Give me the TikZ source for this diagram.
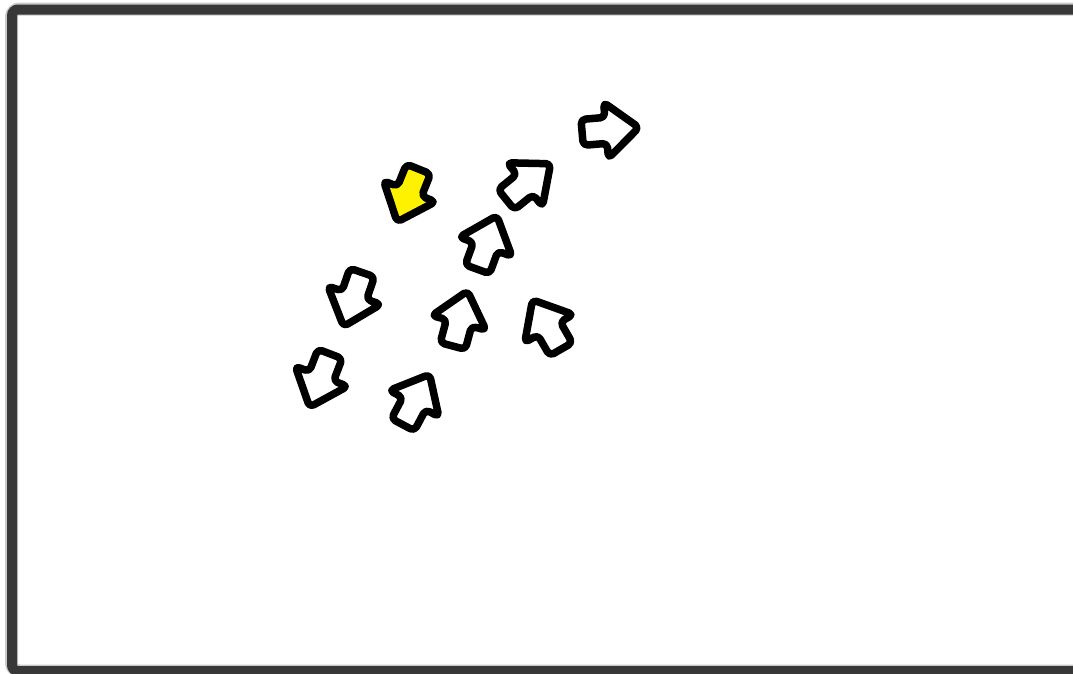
\documentclass[tikz,border=0pt]{standalone}
\usetikzlibrary{calc}
\definecolor{framegray}{HTML}{383838}
\definecolor{shadowgray}{HTML}{A8A8A8}
\definecolor{arrowyellow}{HTML}{FFF200}
\tikzset{
  arrowline/.style={draw=black, line width=7.5pt, line join=round, rounded corners=4.5pt},
  blockarrow/.pic={
    \path[arrowline, fill=#1]
      (-28,-13) -- (-4,-13) -- (-4,-28) -- (29,0) -- (-4,28) -- (-4,13) -- (-28,13) -- cycle;
  }
}
\begin{document}
\begin{tikzpicture}[x=1pt,y=-1pt]
\useasboundingbox (0,0) rectangle (1073,673);
\fill[white] (0,0) rectangle (1073,673);
\begin{scope}
\clip (0,0) rectangle (1073,673);
\draw[shadowgray, line width=13pt, rounded corners=8pt, opacity=0.6] (11.5,9) rectangle (1100,671);
\draw[framegray, line width=10pt, rounded corners=6pt] (12,9.5) rectangle (1100,671);
\end{scope}
% arrows
\pic[rotate=-112] at (408,195) {blockarrow=arrowyellow};
\pic[rotate=5]    at (610,130) {blockarrow=white};
\pic[rotate=39]   at (528,182) {blockarrow=white};
\pic[rotate=70]   at (487,243) {blockarrow=white};
\pic[rotate=-109] at (353,299) {blockarrow=white};
\pic[rotate=75]   at (460,319) {blockarrow=white};
\pic[rotate=120]  at (547,325) {blockarrow=white};
\pic[rotate=-111] at (320,380) {blockarrow=white};
\pic[rotate=62]   at (416,400) {blockarrow=white};
\end{tikzpicture}
\end{document}
